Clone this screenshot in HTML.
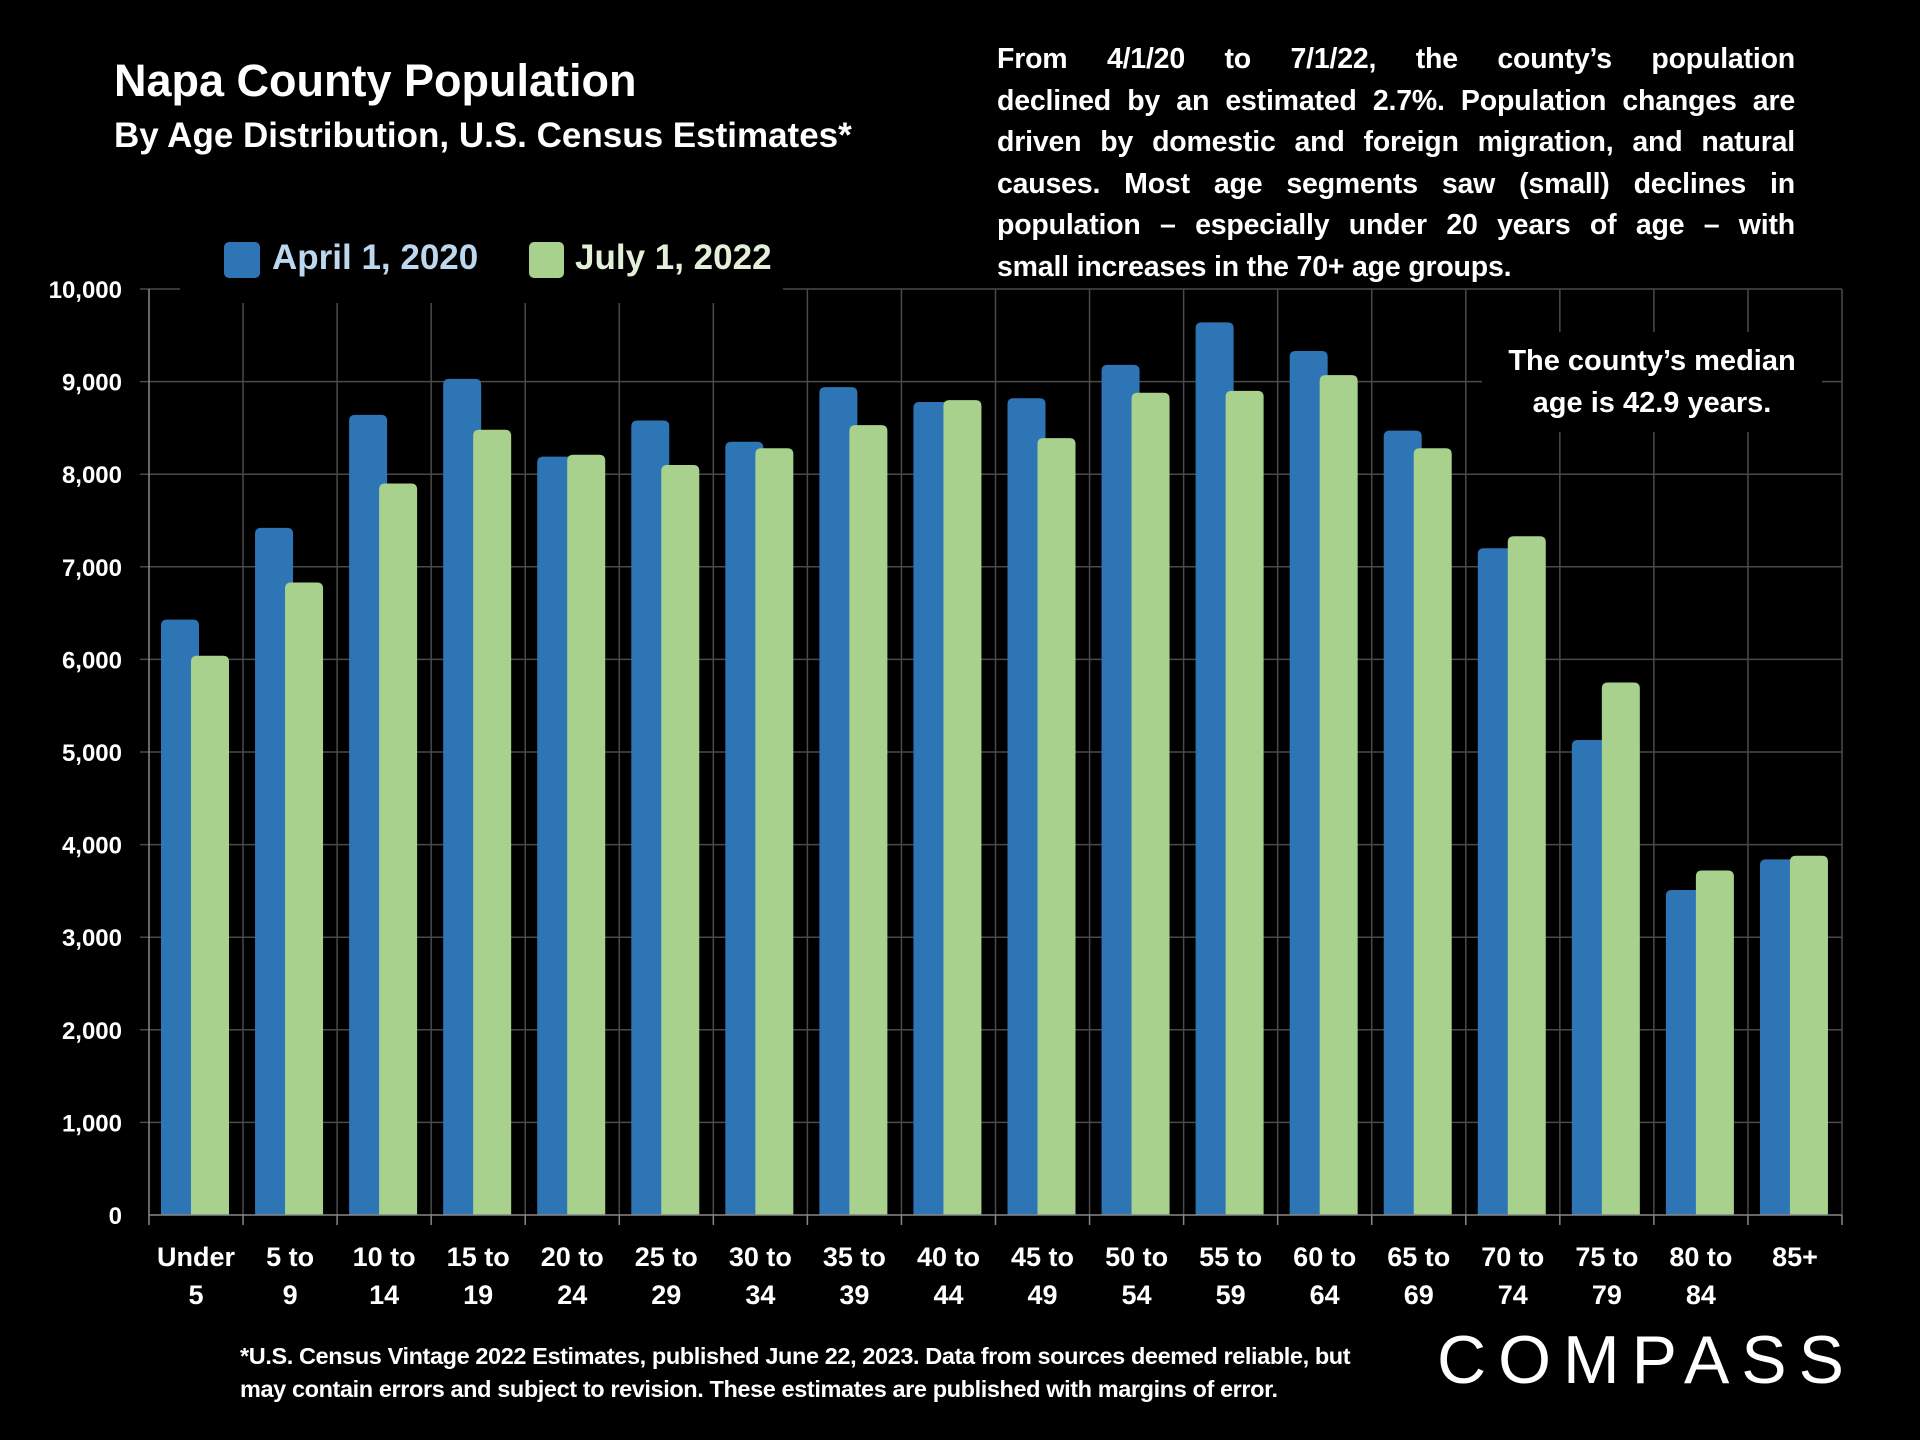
<!DOCTYPE html>
<html><head><meta charset="utf-8">
<style>
html,body{margin:0;padding:0;background:#000;}
#root{position:relative;width:1920px;height:1440px;background:#000;overflow:hidden;font-family:"Liberation Sans",sans-serif;font-weight:bold;color:#fff;}
.abs{position:absolute;}
.pl{position:absolute;left:997px;width:798px;font-size:28.5px;letter-spacing:-0.2px;text-align:justify;text-align-last:justify;white-space:nowrap;line-height:42px;height:42px;}
</style></head>
<body>
<div id="root">
<svg id="chart" class="abs" style="left:0;top:0" width="1920" height="1440"></svg>

<div class="abs" style="left:114px;top:55px;font-size:45px;">Napa County Population</div>
<div class="abs" style="left:114px;top:116px;font-size:35px;">By Age Distribution, U.S. Census Estimates*</div>

<div class="abs" style="left:0;top:0;">
<div class="pl" style="top:38px">From 4/1/20 to 7/1/22, the county’s population</div>
<div class="pl" style="top:80px">declined by an estimated 2.7%. Population changes are</div>
<div class="pl" style="top:121px">driven by domestic and foreign migration, and natural</div>
<div class="pl" style="top:163px">causes. Most age segments saw (small) declines in</div>
<div class="pl" style="top:204px">population – especially under 20 years of age – with</div>
<div class="pl" style="top:246px;text-align-last:left">small increases in the 70+ age groups.</div>
</div>

<div class="abs" style="left:180px;top:228px;width:603px;height:75px;background:#000;">
  <div class="abs" style="left:44px;top:14px;width:36px;height:36px;background:#2e75b6;border-radius:5px;"></div>
  <div class="abs" style="left:92px;top:10px;font-size:35px;color:#bdd7ee;">April 1, 2020</div>
  <div class="abs" style="left:349px;top:14px;width:35px;height:36px;background:#a9d18e;border-radius:5px;"></div>
  <div class="abs" style="left:395px;top:10px;font-size:35px;color:#e2f0d9;">July 1, 2022</div>
</div>

<div class="abs" style="left:1482px;top:332px;width:340px;height:100px;background:#000;text-align:center;font-size:29px;line-height:42px;padding-top:8px;box-sizing:border-box;">The county’s median<br>age is 42.9 years.</div>

<div class="abs" style="left:240px;top:1340px;font-size:23.5px;line-height:33px;letter-spacing:-0.4px;">*U.S. Census Vintage 2022 Estimates, published June 22, 2023. Data from sources deemed reliable, but<br>may contain errors and subject to revision. These estimates are published with margins of error.</div>

<div class="abs" style="left:1437px;top:1325px;font-size:68px;font-weight:normal;letter-spacing:12px;line-height:70px;">COMPASS</div>
</div>

<script>
const categories=[["Under","5"],["5 to","9"],["10 to","14"],["15 to","19"],["20 to","24"],["25 to","29"],["30 to","34"],["35 to","39"],["40 to","44"],["45 to","49"],["50 to","54"],["55 to","59"],["60 to","64"],["65 to","69"],["70 to","74"],["75 to","79"],["80 to","84"],["85+",""]];
const april2020=[6430,7420,8640,9030,8190,8580,8350,8940,8780,8820,9180,9640,9330,8470,7200,5130,3510,3840];
const july2022=[6040,6830,7900,8480,8210,8100,8280,8530,8800,8390,8880,8900,9070,8280,7330,5750,3720,3880];
const yTicks=[0,1000,2000,3000,4000,5000,6000,7000,8000,9000,10000];
const yTickLabels=["0","1,000","2,000","3,000","4,000","5,000","6,000","7,000","8,000","9,000","10,000"];

const NS="http://www.w3.org/2000/svg";
const svg=document.getElementById('chart');
const X0=149,X1=1842,Y0=1215,YTOP=289,YMAX=10000;
const cw=(X1-X0)/categories.length;
function y(v){return Y0-(v/YMAX)*(Y0-YTOP);}
function xc(i){return X0+i*cw;}
function mk(tag,attrs){const e=document.createElementNS(NS,tag);for(const k in attrs)e.setAttribute(k,attrs[k]);svg.appendChild(e);return e;}
function roundTop(x,yy,w,h,r){return `M${x},${yy+h}V${yy+r}Q${x},${yy} ${x+r},${yy}H${x+w-r}Q${x+w},${yy} ${x+w},${yy+r}V${yy+h}Z`;}

yTicks.forEach((t,i)=>{
  if(t===0)return;
  const l=mk('line',{x1:X0-9,x2:X1,y1:y(t),y2:y(t),stroke:'#4a4a4a','stroke-width':1.5});
  
  
});
for(let i=1;i<=categories.length;i++){
  const l=mk('line',{x1:xc(i),x2:xc(i),y1:YTOP,y2:Y0,stroke:'#4a4a4a','stroke-width':1.5});
  
  
}
const ya=mk('line',{x1:X0,x2:X0,y1:YTOP,y2:Y0,stroke:'#888','stroke-width':1.5});


yTicks.forEach((t,i)=>{
  const tx=mk('text',{x:122,y:y(t)+9,'text-anchor':'end','font-size':24,'font-weight':'bold',fill:'#fff','font-family':'Liberation Sans, sans-serif'});
  tx.textContent=yTickLabels[i];
  
  
});
const bw=38;
categories.forEach((c,i)=>{
  const b=mk('path',{d:roundTop(xc(i)+12,y(april2020[i]),bw,Y0-y(april2020[i]),6),fill:'#2e75b6'});
  
  
  const g=mk('path',{d:roundTop(xc(i)+42,y(july2022[i]),bw,Y0-y(july2022[i]),6),fill:'#a9d18e'});
  
  
});
const xa=mk('line',{x1:X0,x2:X1,y1:Y0,y2:Y0,stroke:'#888','stroke-width':1.5});


for(let i=0;i<=categories.length;i++){
  const tk=mk('line',{x1:xc(i),x2:xc(i),y1:Y0,y2:Y0+10,stroke:'#888','stroke-width':1.5});
  
  
}
categories.forEach((c,i)=>{
  c.forEach((ln,j)=>{
    if(!ln)return;
    const tx=mk('text',{x:xc(i)+cw/2,y:1266+j*38,'text-anchor':'middle','font-size':27,'font-weight':'bold',fill:'#fff','font-family':'Liberation Sans, sans-serif'});
    tx.textContent=ln;
    
    
  });
});
</script>
</body></html>
